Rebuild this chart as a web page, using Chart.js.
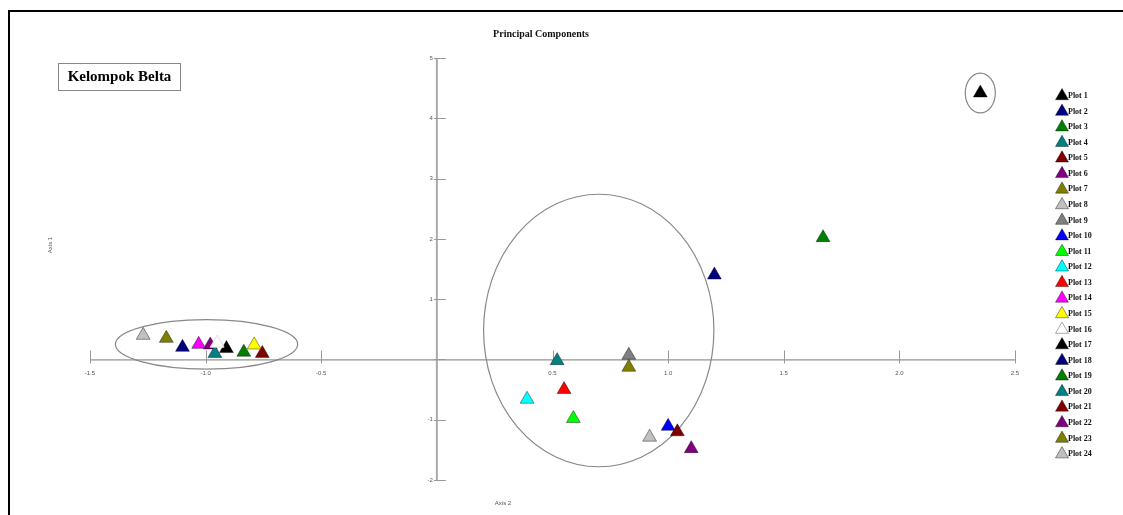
<!DOCTYPE html>
<html>
<head>
<meta charset="utf-8">
<script src="https://cdn.jsdelivr.net/npm/chart.js@4.4.0/dist/chart.umd.min.js"></script>
<style>
  html, body { margin: 0; padding: 0; background: #fff; }
  #wrap { width: 1123px; height: 515px; position: relative; }
</style>
</head>
<body>
<div id="wrap"><canvas id="pcaChart"></canvas></div>
<script>
// plot labels and their PCA scores (Axis 2 -> x, Axis 1 -> y)
const plotLabels = ['Plot 1', 'Plot 2', 'Plot 3', 'Plot 4', 'Plot 5', 'Plot 6', 'Plot 7', 'Plot 8',
    'Plot 9', 'Plot 10', 'Plot 11', 'Plot 12', 'Plot 13', 'Plot 14', 'Plot 15', 'Plot 16',
    'Plot 17', 'Plot 18', 'Plot 19', 'Plot 20', 'Plot 21', 'Plot 22', 'Plot 23', 'Plot 24'];
const axis2Scores = [2.35, 1.20, 1.67, 0.52, 1.04, 1.10, 0.83, 0.92,
    0.83, 1.00, 0.59, 0.39, 0.55, -1.03, -0.79, -0.95,
    -0.91, -1.10, -0.835, -0.96, -0.755, -0.98, -1.17, -1.27];
const axis1Scores = [4.42, 1.40, 2.02, -0.02, -1.20, -1.48, -0.13, -1.29,
    0.07, -1.11, -0.98, -0.66, -0.50, 0.25, 0.24, 0.27,
    0.18, 0.20, 0.12, 0.10, 0.10, 0.24, 0.35, 0.40];
const plotColors = ['#000000', '#000080', '#008000', '#008080', '#800000', '#800080', '#808000', '#c0c0c0',
    '#808080', '#0000ff', '#00ff00', '#00ffff', '#ff0000', '#ff00ff', '#ffff00', '#ffffff',
    '#000000', '#000080', '#008000', '#008080', '#800000', '#800080', '#808000', '#c0c0c0'];
const xTicks = [-1.5, -1.0, -0.5, 0.5, 1.0, 1.5, 2.0, 2.5];
const yTicks = [-2, -1, 1, 2, 3, 4, 5];

// group outlines in data units: [centerX, centerY, radiusX, radiusY]
const groupOutlines = [
    [-0.996, 0.25, 0.394, 0.41],
    [0.70, 0.48, 0.498, 2.26],
    [2.35, 4.42, 0.065, 0.33]
];

const datasets = plotLabels.map((label, i) => ({
    label: label,
    data: [{ x: axis2Scores[i], y: axis1Scores[i] }],
    backgroundColor: plotColors[i],
    borderColor: plotColors[i] === '#ffffff' ? '#dddddd' : 'rgba(0,0,0,0.4)',
    borderWidth: 1,
    pointStyle: 'triangle',
    pointRadius: 8,
    pointHoverRadius: 8
}));

const decorPlugin = {
    id: 'decor',
    beforeDatasetsDraw(chart) {
        const ctx = chart.ctx;
        const xs = chart.scales.x, ys = chart.scales.y;
        const x0 = xs.getPixelForValue(0), y0 = ys.getPixelForValue(0);
        ctx.save();

        // frame
        ctx.strokeStyle = '#000';
        ctx.lineWidth = 2;
        ctx.beginPath();
        ctx.moveTo(9, 520);
        ctx.lineTo(9, 11);
        ctx.lineTo(1130, 11);
        ctx.stroke();

        // horizontal axis
        ctx.strokeStyle = '#777';
        ctx.lineWidth = 1;
        ctx.beginPath();
        ctx.moveTo(xs.getPixelForValue(-1.5), y0 + 0.5);
        ctx.lineTo(xs.getPixelForValue(2.5), y0 + 0.5);
        ctx.stroke();
        ctx.strokeStyle = '#999';
        xTicks.forEach(v => {
            const px = Math.round(xs.getPixelForValue(v)) + 0.5;
            ctx.beginPath();
            ctx.moveTo(px, y0 - 9);
            ctx.lineTo(px, y0 + 4);
            ctx.stroke();
        });

        // vertical axis
        ctx.strokeStyle = '#aaa';
        ctx.lineWidth = 2;
        ctx.beginPath();
        ctx.moveTo(x0, ys.getPixelForValue(5));
        ctx.lineTo(x0, ys.getPixelForValue(-2));
        ctx.stroke();
        ctx.lineWidth = 1;
        ctx.strokeStyle = '#999';
        yTicks.concat([0]).forEach(v => {
            const py = Math.round(ys.getPixelForValue(v)) + 0.5;
            ctx.beginPath();
            ctx.moveTo(x0 - 3, py);
            ctx.lineTo(x0 + 9, py);
            ctx.stroke();
        });

        // tick labels
        ctx.fillStyle = '#555';
        ctx.font = '6px "Liberation Sans", Arial, sans-serif';
        ctx.textAlign = 'center';
        ctx.textBaseline = 'middle';
        xTicks.forEach(v => {
            ctx.fillText(v.toFixed(1), xs.getPixelForValue(v), y0 + 14);
        });
        ctx.textAlign = 'right';
        yTicks.forEach(v => {
            ctx.fillText(String(v), x0 - 4, ys.getPixelForValue(v));
        });

        // axis titles
        ctx.textAlign = 'center';
        ctx.fillText('Axis 2', 503, 503);
        ctx.save();
        ctx.translate(50, 245);
        ctx.rotate(-Math.PI / 2);
        ctx.fillText('Axis 1', 0, 0);
        ctx.restore();

        // group outlines
        ctx.strokeStyle = '#888';
        ctx.lineWidth = 1.2;
        groupOutlines.forEach(([cx, cy, rx, ry]) => {
            const pcx = xs.getPixelForValue(cx), pcy = ys.getPixelForValue(cy);
            const prx = Math.abs(xs.getPixelForValue(cx + rx) - pcx);
            const pry = Math.abs(ys.getPixelForValue(cy + ry) - pcy);
            ctx.beginPath();
            ctx.ellipse(pcx, pcy, prx, pry, 0, 0, Math.PI * 2);
            ctx.stroke();
        });

        // title
        ctx.fillStyle = '#111';
        ctx.font = 'bold 10px "Liberation Serif", "Times New Roman", serif';
        ctx.textAlign = 'center';
        ctx.fillText('Principal Components', 541, 34);

        // group name box
        ctx.strokeStyle = '#888';
        ctx.lineWidth = 1;
        ctx.strokeRect(58.5, 63.5, 122, 27);
        ctx.font = 'bold 15px "Liberation Serif", "Times New Roman", serif';
        ctx.fillStyle = '#000';
        ctx.fillText('Kelompok Belta', 119.5, 77.5);

        ctx.restore();
    },
    afterDraw(chart) {
        // legend column
        const ctx = chart.ctx;
        ctx.save();
        ctx.font = 'bold 8px "Liberation Serif", "Times New Roman", serif';
        ctx.textAlign = 'left';
        ctx.textBaseline = 'middle';
        chart.data.datasets.forEach((ds, i) => {
            const ly = 96 + i * 15.57;
            ctx.fillStyle = ds.backgroundColor;
            ctx.strokeStyle = ds.label === 'Plot 16' ? '#aaaaaa' : ds.borderColor;
            ctx.lineWidth = 1;
            Chart.helpers.drawPoint(ctx, { pointStyle: 'triangle', radius: 7.5, rotation: 0, borderWidth: 1 }, 1062, ly);
            ctx.fillStyle = '#111';
            ctx.fillText(ds.label, 1068, ly);
        });
        ctx.restore();
    }
};

new Chart(document.getElementById('pcaChart'), {
    type: 'scatter',
    data: { datasets: datasets },
    options: {
        responsive: true,
        maintainAspectRatio: false,
        animation: false,
        layout: { padding: { left: 90, right: 108, top: 58, bottom: 35 } },
        plugins: {
            legend: { display: false },
            title: { display: false },
            tooltip: { enabled: false }
        },
        scales: {
            x: { type: 'linear', min: -1.5, max: 2.5, display: false },
            y: { type: 'linear', min: -2, max: 5, display: false }
        }
    },
    plugins: [decorPlugin]
});
</script>
</body>
</html>
